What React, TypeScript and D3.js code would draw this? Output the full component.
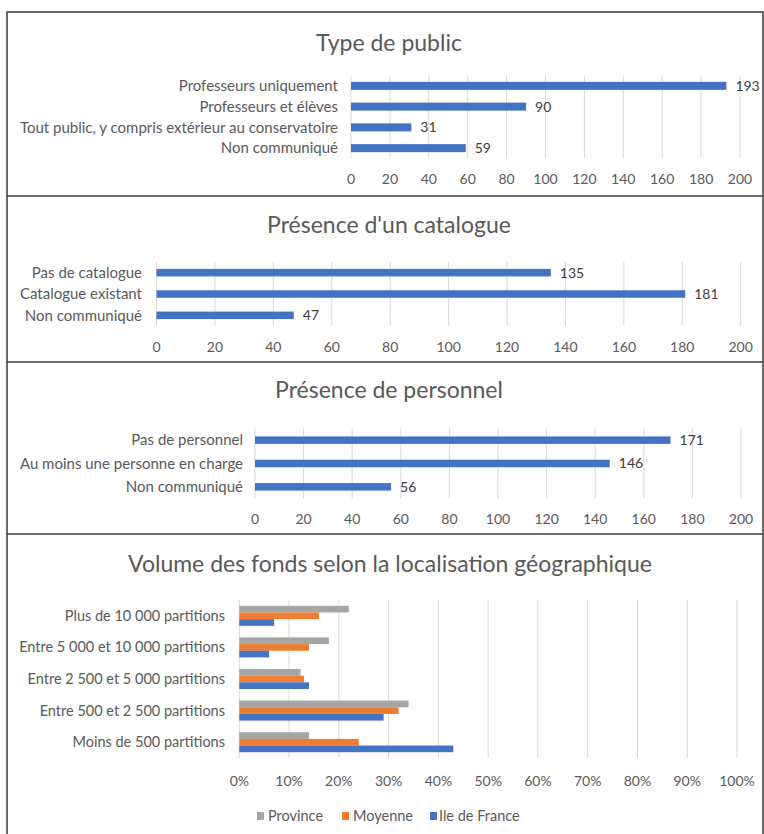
import React from "react";
import * as d3 from "d3";

const publicCategories = [
  "Professeurs uniquement",
  "Professeurs et élèves",
  "Tout public, y compris extérieur au conservatoire",
  "Non communiqué",
];
const publicValues = [193, 90, 31, 59];

const catalogueCategories = ["Pas de catalogue", "Catalogue existant", "Non communiqué"];
const catalogueValues = [135, 181, 47];

const personnelCategories = ["Pas de personnel", "Au moins une personne en charge", "Non communiqué"];
const personnelValues = [171, 146, 56];

const countTicks = [0, 20, 40, 60, 80, 100, 120, 140, 160, 180, 200];

const volumeCategories = [
  "Plus de 10 000 partitions",
  "Entre 5 000 et 10 000 partitions",
  "Entre 2 500 et 5 000 partitions",
  "Entre 500 et 2 500 partitions",
  "Moins de 500 partitions",
];
const seriesNames = ["Province", "Moyenne", "Ile de France"];
const provinceValues = [0.22, 0.18, 0.123, 0.34, 0.14];
const moyenneValues = [0.16, 0.14, 0.13, 0.32, 0.24];
const ileDeFranceValues = [0.07, 0.06, 0.14, 0.29, 0.43];
const percentTicks = [0, 0.1, 0.2, 0.3, 0.4, 0.5, 0.6, 0.7, 0.8, 0.9, 1];

const FONT = "Lato, 'Open Sans', sans-serif";
const BLUE = "#4472C4";
const ORANGE = "#ED7D31";
const GRAY = "#A5A5A5";
const TEXT = "#595959";
const GRID = "#D9D9D9";
const seriesColors = [GRAY, ORANGE, BLUE];
const LABEL_SIZE = 15;
const VOLUME_LABEL_SIZE = 14.5;
const TICK_SIZE = 14;
const TITLE_SIZE = 23;

type SimpleProps = {
  title: string;
  categories: string[];
  values: number[];
  titleY: number;
  x0: number;
  x1: number;
  top: number;
  bottom: number;
  tickY: number;
  labelRight: number;
  barH: number;
};

function SimplePanel(p: SimpleProps) {
  const x = d3.scaleLinear().domain([0, 200]).range([p.x0, p.x1]);
  const y = d3
    .scaleBand<string>()
    .domain(p.categories)
    .range([p.top, p.bottom]);
  const step = y.step();
  return (
    <g>
      <text x={389} y={p.titleY} textAnchor="middle" fontSize={TITLE_SIZE} fill={TEXT} fontFamily={FONT}>
        {p.title}
      </text>
      {countTicks.map((t) => (
        <g key={t}>
          <line x1={x(t)} x2={x(t)} y1={p.top} y2={p.bottom} stroke={GRID} strokeWidth={1} />
          <text x={x(t)} y={p.tickY} textAnchor="middle" fontSize={TICK_SIZE} fill={TEXT} fontFamily={FONT}>
            {t}
          </text>
        </g>
      ))}
      {p.categories.map((c, i) => {
        const cy = (y(c) as number) + step / 2;
        return (
          <g key={c}>
            <rect x={x(0)} y={cy - p.barH / 2} width={x(p.values[i]) - x(0)} height={p.barH} fill={BLUE} />
            <text x={p.labelRight} y={cy} dy="0.35em" textAnchor="end" fontSize={LABEL_SIZE} fill={TEXT} fontFamily={FONT}>
              {c}
            </text>
            <text x={x(p.values[i]) + 9} y={cy} dy="0.35em" fontSize={TICK_SIZE} fill="#404040" fontFamily={FONT}>
              {p.values[i]}
            </text>
          </g>
        );
      })}
    </g>
  );
}

function VolumePanel() {
  const x0 = 239.3;
  const x1 = 737;
  const top = 600;
  const bottom = 758;
  const x = d3.scaleLinear().domain([0, 1]).range([x0, x1]);
  const y = d3.scaleBand<string>().domain(volumeCategories).range([top, bottom]);
  const step = y.step();
  const groupH = 20;
  const inner = d3.scaleBand<string>().domain(seriesNames).range([0, groupH]);
  const series = [provinceValues, moyenneValues, ileDeFranceValues];
  const legendItems = [
    { name: seriesNames[0], mx: 257, tx: 268 },
    { name: seriesNames[1], mx: 342, tx: 353 },
    { name: seriesNames[2], mx: 430, tx: 439 },
  ];
  return (
    <g>
      <text x={390} y={572} textAnchor="middle" fontSize={TITLE_SIZE} fill={TEXT} fontFamily={FONT}>
        Volume des fonds selon la localisation géographique
      </text>
      {percentTicks.map((t) => (
        <g key={t}>
          <line x1={x(t)} x2={x(t)} y1={top} y2={bottom} stroke={GRID} strokeWidth={1} />
          <text x={x(t)} y={786} textAnchor="middle" fontSize={TICK_SIZE} fill={TEXT} fontFamily={FONT}>
            {d3.format(".0%")(t)}
          </text>
        </g>
      ))}
      {volumeCategories.map((c, i) => {
        const gy = (y(c) as number) + (step - groupH) / 2;
        return (
          <g key={c}>
            {series.map((vals, s) => (
              <rect
                key={s}
                x={x(0)}
                y={gy + (inner(seriesNames[s]) as number)}
                width={x(vals[i]) - x(0)}
                height={inner.bandwidth()}
                fill={seriesColors[s]}
              />
            ))}
            <text x={225} y={gy + groupH / 2} dy="0.35em" textAnchor="end" fontSize={VOLUME_LABEL_SIZE} fill={TEXT} fontFamily={FONT}>
              {c}
            </text>
          </g>
        );
      })}
      {legendItems.map((l, i) => (
        <g key={l.name}>
          <rect x={l.mx} y={812} width={7} height={8} fill={seriesColors[i]} />
          <text x={l.tx} y={816} dy="0.35em" fontSize={VOLUME_LABEL_SIZE} fill={TEXT} fontFamily={FONT}>
            {l.name}
          </text>
        </g>
      ))}
    </g>
  );
}

export default function App() {
  const W = 764;
  const H = 834;
  const border = "#3a3a3a";
  return (
    <div style={{ position: "absolute", left: 0, top: 0 }}>
      <svg width={W} height={H} style={{ display: "block", background: "#fff" }}>
        <rect x={0} y={0} width={W} height={H} fill="#fff" />
        <SimplePanel
          title="Type de public"
          categories={publicCategories}
          values={publicValues}
          titleY={51}
          x0={351}
          x1={740}
          top={75.5}
          bottom={158.5}
          tickY={184}
          labelRight={338}
          barH={8}
        />
        <SimplePanel
          title="Présence d'un catalogue"
          categories={catalogueCategories}
          values={catalogueValues}
          titleY={233}
          x0={156.5}
          x1={740.7}
          top={262}
          bottom={326}
          tickY={352}
          labelRight={142}
          barH={7.5}
        />
        <SimplePanel
          title="Présence de personnel"
          categories={personnelCategories}
          values={personnelValues}
          titleY={398}
          x0={255}
          x1={741}
          top={428.5}
          bottom={498.5}
          tickY={524}
          labelRight={243}
          barH={7.5}
        />
        <VolumePanel />
        <g fill="none" stroke={border} strokeWidth={1.5}>
          <rect x={7} y={12} width={756} height={830} />
          <line x1={7} x2={763} y1={196} y2={196} />
          <line x1={7} x2={763} y1={362} y2={362} />
          <line x1={7} x2={763} y1={534} y2={534} />
        </g>
      </svg>
    </div>
  );
}
